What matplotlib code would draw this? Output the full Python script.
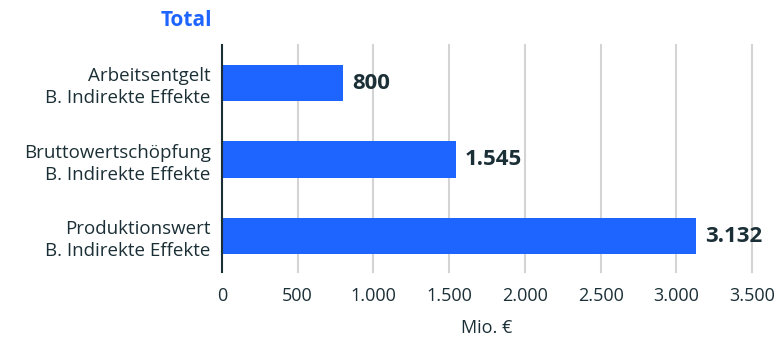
import matplotlib
matplotlib.use('Agg')
from matplotlib import pyplot as plt
from matplotlib.ticker import FuncFormatter

plt.rcParams['font.family'] = ['Open Sans', 'DejaVu Sans']

# Values in million euro
categories = ['Arbeitsentgelt\nB. Indirekte Effekte',
              'Bruttowertschöpfung\nB. Indirekte Effekte',
              'Produktionswert\nB. Indirekte Effekte']
values = [800, 1545, 3132]
xticks = [0, 500, 1000, 1500, 2000, 2500, 3000, 3500]

blue = '#1E64FF'
dark = '#1B2F36'

def de_fmt(v, pos=None):
    return f'{int(v):,}'.replace(',', '.')

fig = plt.figure(figsize=(7.78, 3.41), dpi=100)
ax = fig.add_axes([0.2853, 0.2023, 0.6813, 0.666])

pos = range(len(values))
ax.barh(pos, values, height=0.48, color=blue, zorder=3)
for p, v in zip(pos, values):
    ax.text(v + 60, p, de_fmt(v), va='center', ha='left', fontsize=16,
            fontweight='bold', color=dark)

ax.set_xlim(0, 3500)
ax.set_ylim(2.47, -0.5)
ax.set_yticks(list(pos))
ax.set_yticklabels(categories, fontsize=13.5, color=dark, linespacing=1.3)
ax.set_xticks(xticks)
ax.xaxis.set_major_formatter(FuncFormatter(de_fmt))
ax.tick_params(axis='x', length=0, labelsize=13, labelcolor=dark, pad=11)
ax.tick_params(axis='y', length=0, pad=8)
ax.grid(axis='x', color='#d4d4d4', linewidth=1.5, zorder=0)
for g in ax.get_xgridlines():
    g.set_clip_on(False)
for s in ['top', 'right', 'bottom']:
    ax.spines[s].set_visible(False)
ax.spines['left'].set_color(dark)
ax.spines['left'].set_linewidth(1.5)
ax.spines['left'].set_zorder(4)
ax.set_xlabel('Mio. €', fontsize=13, color=dark, labelpad=10)

fig.text(212 / 778, 1 - 21 / 341, 'Total', ha='right', va='center',
         fontsize=15, fontweight='bold', color=blue)

plt.savefig('out.png', dpi=100)
